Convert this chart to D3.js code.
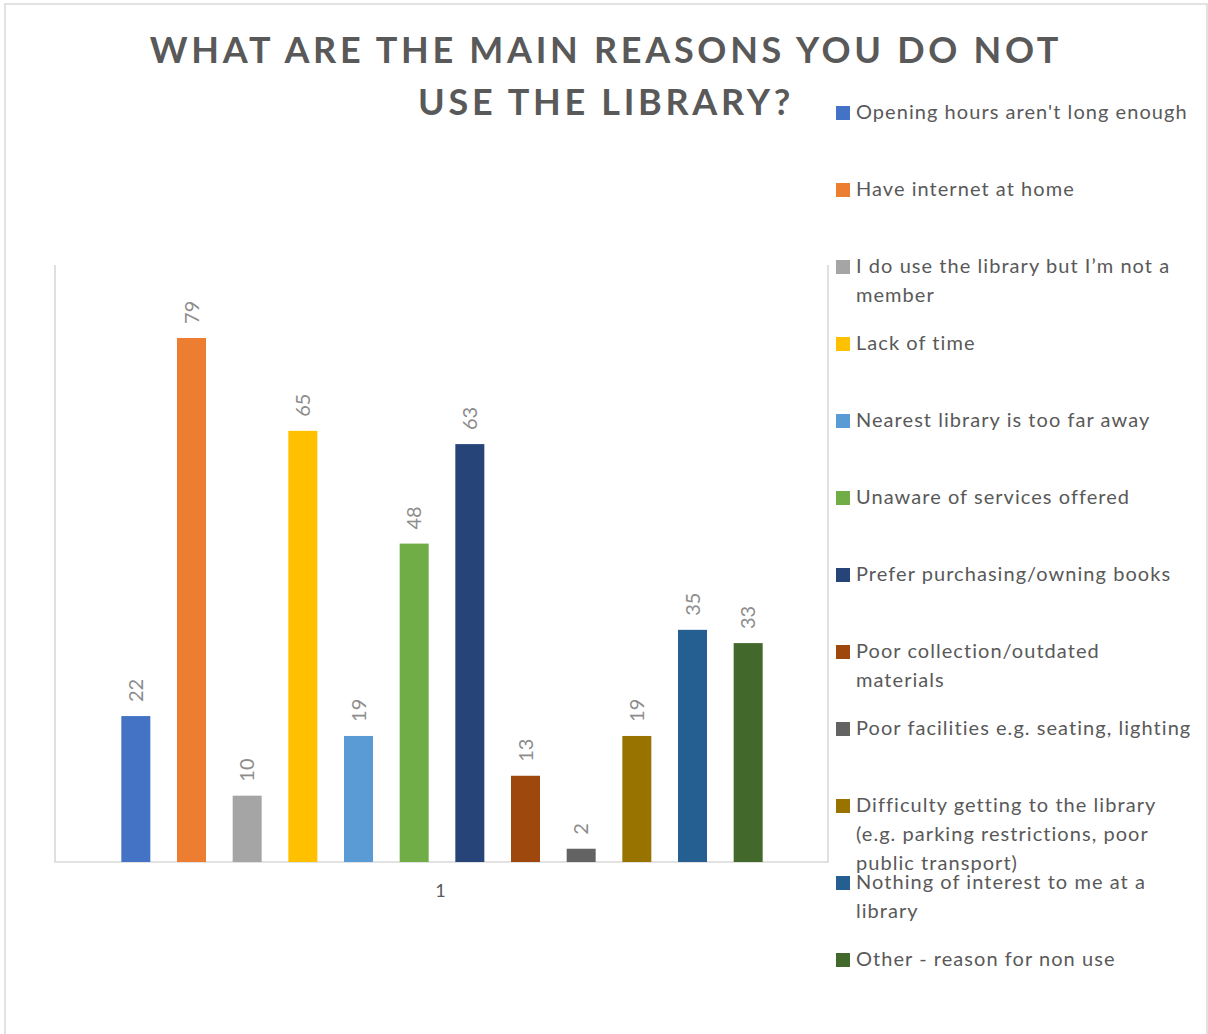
<!DOCTYPE html>
<html>
<head>
<meta charset="utf-8">
<script src="https://cdn.jsdelivr.net/npm/d3@7"></script>
<style>
  html, body { margin: 0; padding: 0; background: #ffffff; }
  svg { display: block; }
</style>
</head>
<body>
<div id="chart"></div>
<script>
// ---------- data ----------
const titleLines = ["WHAT ARE THE MAIN REASONS YOU DO NOT", "USE THE LIBRARY?"];
const xCategories = ["1"];
const seriesNames = [
  "Opening hours aren't long enough",
  "Have internet at home",
  "I do use the library but I\u2019m not a\nmember",
  "Lack of time",
  "Nearest library is too far away",
  "Unaware of services offered",
  "Prefer purchasing/owning books",
  "Poor collection/outdated\nmaterials",
  "Poor facilities e.g. seating, lighting",
  "Difficulty getting to the library\n(e.g. parking restrictions, poor\npublic transport)",
  "Nothing of interest to me at a\nlibrary",
  "Other - reason for non use"
];
const seriesValues = [22, 79, 10, 65, 19, 48, 63, 13, 2, 19, 35, 33];
const seriesColors = ["#4472C4", "#ED7D31", "#A5A5A5", "#FFC000", "#5B9BD5", "#70AD47",
                      "#264478", "#9E480E", "#636363", "#997300", "#255E91", "#43682B"];
const yDomain = [0, 90];

// ---------- layout ----------
const W = 1208, H = 1034;
const plot = { left: 55, right: 828, top: 265, bottom: 862 };
const FONT = "Lato, 'Liberation Sans', sans-serif";

const svg = d3.select("#chart").append("svg")
  .attr("width", W).attr("height", H);

// outer chart border
svg.append("rect")
  .attr("x", 5).attr("y", 4).attr("width", 1202).attr("height", 1040)
  .attr("fill", "#fff").attr("stroke", "#d9d9d9").attr("stroke-width", 1.5);

// title
svg.append("g").selectAll("text").data(titleLines).join("text")
  .attr("x", 606).attr("y", (d, i) => 63 + i * 52)
  .attr("text-anchor", "middle")
  .attr("font-family", FONT).attr("font-weight", "bold")
  .attr("font-size", 36).attr("letter-spacing", 3.7)
  .attr("fill", "#595959")
  .text(d => d);

// scales
const x0 = d3.scaleBand().domain(xCategories).range([plot.left, plot.right]);
const x1 = d3.scaleBand().domain(d3.range(seriesValues.length))
  .range([x0("1") + 53, x0("1") + x0.bandwidth() - 52]).paddingInner(0.48).paddingOuter(0.24);
const y = d3.scaleLinear().domain(yDomain).range([plot.bottom, plot.top]);

// plot area frame (left, bottom, right)
const frame = svg.append("g").attr("stroke", "#d9d9d9").attr("stroke-width", 1.6).attr("fill", "none");
frame.append("path").attr("d", `M${plot.left},${plot.top}V${plot.bottom}H${plot.right}V${plot.top}`);

// bars
const bw = 29;
svg.append("g").selectAll("rect").data(seriesValues).join("rect")
  .attr("x", (d, i) => x1(i) + x1.bandwidth() / 2 - bw / 2)
  .attr("width", bw)
  .attr("y", d => y(d))
  .attr("height", d => y(0) - y(d))
  .attr("fill", (d, i) => seriesColors[i]);

// value labels (rotated)
svg.append("g").selectAll("text").data(seriesValues).join("text")
  .attr("transform", (d, i) => `translate(${x1(i) + x1.bandwidth() / 2 + 7},${y(d) - 14}) rotate(-90)`)
  .attr("font-family", FONT).attr("font-size", 20)
  .attr("fill", "#8c8c8c")
  .text(d => d);

// category axis label
svg.append("g").selectAll("text").data(xCategories).join("text")
  .attr("x", d => x0(d) + x0.bandwidth() / 2 - 1).attr("y", 897)
  .attr("text-anchor", "middle")
  .attr("font-family", FONT).attr("font-size", 18)
  .attr("fill", "#595959")
  .text(d => d);

// legend
const legend = svg.append("g");
const items = legend.selectAll("g").data(seriesNames).join("g")
  .attr("transform", (d, i) => `translate(836,${106 + i * 77})`);
items.append("rect").attr("width", 14).attr("height", 14)
  .attr("fill", (d, i) => seriesColors[i]);
items.append("text")
  .attr("font-family", FONT).attr("font-size", 20).attr("fill", "#595959")
  .attr("letter-spacing", 1.05)
  .selectAll("tspan").data(d => d.split("\n")).join("tspan")
  .attr("x", 20).attr("y", (d, j) => 12.5 + j * 29)
  .text(d => d);
</script>
</body>
</html>
